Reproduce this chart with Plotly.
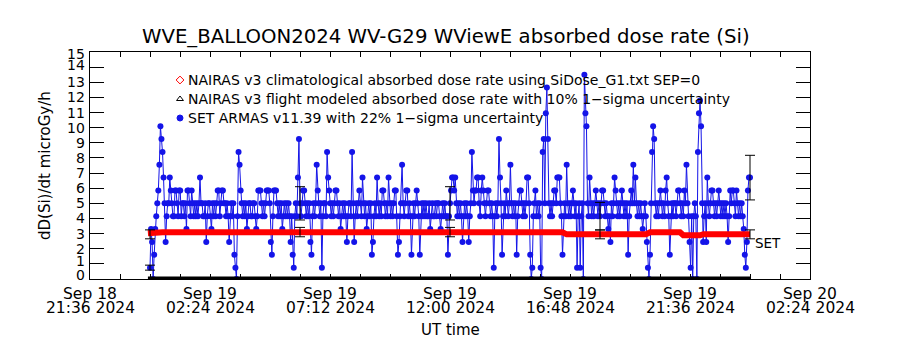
import pandas as pd
import plotly.graph_objects as go

# ---------------- data ----------------
title_text = "WVE_BALLOON2024 WV-G29 WViewE absorbed dose rate (Si)"
y_title = "dD(Si)/dt microGy/h"
x_title = "UT time"

legend_labels = [
    "NAIRAS v3 climatological absorbed dose rate using SiDose_G1.txt SEP=0",
    "NAIRAS v3 flight modeled absorbed dose rate with 10% 1\u2212sigma uncertainty",
    "SET ARMAS v11.39 with 22% 1\u2212sigma uncertainty",
]

# x tick labels (two lines)
tick_times = ["2024-09-18 21:36", "2024-09-19 02:24", "2024-09-19 07:12", "2024-09-19 12:00",
              "2024-09-19 16:48", "2024-09-19 21:36", "2024-09-20 02:24"]
tick_line1 = ["Sep 18", "Sep 19", "Sep 19", "Sep 19", "Sep 19", "Sep 19", "Sep 20"]
tick_line2 = ["21:36 2024", "02:24 2024", "07:12 2024", "12:00 2024",
              "16:48 2024", "21:36 2024", "02:24 2024"]

# y tick labels
y_ticks = list(range(0, 16))
y_tick_labels = [str(v) for v in y_ticks]

# SET ARMAS dose rate, 2.5-minute samples from 2024-09-19 00:00 (one row per hour)
armas_start = "2024-09-19 00:00"
armas_step = "150s"
armas_values = [
    0.75, 3.3, 2.45, 0.0, 1.6, 3.3, 4.15, 5.0, 5.85, 7.55, 10.1, 9.25, 8.4, 6.7, 5.0, 2.45, 4.15, 5.0, 5.0, 6.7, 5.85, 5.0, 4.15, 4.15,
    5.85, 5.85, 5.0, 4.15, 5.85, 5.85, 4.15, 5.0, 5.0, 4.15, 5.0, 3.3, 5.85, 5.85, 5.0, 4.15, 5.85, 5.0, 4.15, 5.0, 4.15, 5.0, 4.15, 5.0,
    6.7, 5.0, 5.0, 4.15, 4.15, 5.0, 2.45, 4.15, 5.0, 5.0, 4.15, 3.3, 5.0, 4.15, 5.0, 4.15, 5.0, 5.85, 5.85, 4.15, 5.0, 5.85, 5.85, 5.0,
    5.0, 4.15, 5.0, 4.15, 2.45, 4.15, 5.0, 4.15, 5.0, 1.6, 0.75, 0.0, 4.15, 8.4, 7.55, 5.85, 5.0, 4.15, 5.0, 4.15, 5.0, 3.3, 4.15, 5.0,
    5.0, 4.15, 4.15, 5.0, 5.0, 4.15, 3.3, 4.15, 5.85, 5.85, 5.85, 5.0, 4.15, 5.0, 4.15, 5.0, 5.85, 5.85, 5.85, 5.0, 2.45, 1.6, 4.15, 5.85,
    5.85, 5.85, 5.0, 4.15, 5.0, 4.15, 5.0, 3.3, 4.15, 5.0, 4.15, 5.0, 4.15, 5.0, 4.15, 2.45, 4.15, 1.6, 0.75, 4.15, 5.0, 4.15, 6.7, 9.25,
    5.0, 4.15, 5.0, 5.85, 5.85, 5.0, 4.15, 5.0, 4.15, 5.0, 2.45, 1.6, 4.15, 5.0, 4.15, 5.0, 7.55, 5.85, 5.0, 4.15, 5.0, 0.75, 4.15, 5.0,
    5.0, 4.15, 8.4, 6.7, 5.85, 5.0, 4.15, 5.0, 4.15, 5.0, 5.85, 5.85, 5.0, 4.15, 5.0, 3.3, 4.15, 5.0, 4.15, 5.0, 4.15, 2.45, 4.15, 5.0,
    5.0, 4.15, 8.4, 5.0, 2.45, 4.15, 5.0, 4.15, 5.0, 5.85, 5.0, 4.15, 6.7, 5.0, 4.15, 5.0, 3.3, 4.15, 5.0, 4.15, 5.0, 1.6, 2.45, 4.15,
    5.0, 4.15, 6.7, 5.0, 4.15, 5.0, 4.15, 5.85, 5.85, 5.0, 4.15, 5.0, 4.15, 6.7, 5.0, 4.15, 5.0, 4.15, 5.0, 5.85, 5.85, 4.15, 1.6, 2.45,
    4.15, 5.0, 7.55, 5.0, 4.15, 5.0, 5.85, 5.85, 4.15, 5.0, 4.15, 1.6, 4.15, 5.0, 4.15, 5.0, 5.85, 5.0, 4.15, 1.6, 4.15, 5.0, 4.15, 5.0,
    4.15, 5.0, 4.15, 4.15, 5.0, 3.3, 4.15, 5.0, 4.15, 4.15, 5.0, 4.15, 5.0, 5.0, 4.15, 3.3, 4.15, 5.0, 4.15, 5.0, 4.15, 4.15, 1.6, 4.15,
    5.0, 5.85, 6.7, 6.7, 5.85, 6.7, 5.0, 4.15, 5.0, 4.15, 5.0, 4.15, 2.45, 4.15, 5.0, 4.15, 5.0, 4.15, 2.45, 4.15, 5.0, 8.4, 5.85, 5.0,
    5.85, 5.85, 6.7, 6.7, 5.0, 4.15, 5.85, 6.7, 5.85, 5.0, 4.15, 5.0, 5.85, 5.85, 5.0, 4.15, 5.0, 4.15, 0.75, 4.15, 5.0, 4.15, 5.0, 9.25,
    6.7, 5.0, 1.6, 4.15, 5.0, 4.15, 5.85, 5.0, 4.15, 5.0, 7.55, 5.0, 4.15, 5.0, 4.15, 5.0, 1.6, 4.15, 5.0, 5.85, 5.85, 5.0, 4.15, 5.0,
    4.15, 5.0, 6.7, 6.7, 5.0, 1.6, 0.0, 0.75, 4.15, 5.0, 5.85, 4.15, 5.0, 4.15, 5.0, 0.75, 0.0, 8.4, 9.25, 5.0, 10.95, 12.65, 9.25, 5.0,
    4.15, 5.0, 4.15, 5.0, 5.85, 5.85, 5.0, 6.7, 6.7, 6.7, 5.0, 4.15, 1.6, 4.15, 5.0, 4.15, 7.55, 5.0, 4.15, 5.0, 4.15, 5.0, 5.85, 5.0,
    4.15, 5.0, 0.75, 4.15, 5.0, 0.75, 4.15, 5.0, 0.0, 13.5, 10.95, 10.1, 5.0, 4.15, 6.7, 5.0, 4.15, 5.0, 4.15, 5.0, 5.85, 5.0, 4.15, 5.0,
    4.15, 5.0, 5.85, 5.85, 5.0, 4.15, 5.0, 4.15, 3.3, 4.15, 2.45, 5.0, 4.15, 5.0, 6.7, 5.85, 5.0, 4.15, 5.0, 4.15, 5.0, 5.85, 5.0, 4.15,
    5.0, 4.15, 5.0, 1.6, 4.15, 5.0, 5.85, 5.0, 7.55, 5.0, 6.7, 5.0, 4.15, 5.0, 4.15, 5.0, 4.15, 3.3, 4.15, 5.0, 4.15, 2.45, 0.75, 0.0,
    1.6, 5.0, 8.4, 10.1, 9.25, 5.0, 4.15, 5.0, 4.15, 5.0, 5.85, 5.0, 4.15, 5.0, 4.15, 5.85, 6.7, 5.0, 4.15, 1.6, 4.15, 5.0, 4.15, 5.0,
    5.0, 4.15, 5.0, 5.85, 5.85, 5.0, 4.15, 5.0, 4.15, 5.85, 5.0, 7.55, 5.0, 4.15, 2.45, 0.75, 4.15, 0.0, 4.15, 5.0, 4.15, 0.0, 8.4, 10.95,
    11.8, 10.1, 5.0, 2.45, 4.15, 5.0, 2.45, 6.7, 5.0, 4.15, 5.0, 5.85, 5.85, 5.0, 4.15, 5.0, 4.15, 5.0, 5.85, 5.0, 4.15, 5.0, 4.15, 5.0,
    4.15, 5.0, 4.15, 2.45, 4.15, 5.85, 5.0, 5.85, 5.85, 5.0, 4.15, 5.85, 5.0, 4.15, 5.0, 4.15, 5.0, 4.15, 3.3, 1.6, 0.75, 2.45, 5.85, 6.7,
    6.7,
]
armas_err_frac = 0.22
armas_err_index = [0, 144, 288, 432, 576]

# NAIRAS v3 climatological dose rate
clim_times = ["2024-09-18 23:55", "2024-09-19 00:30", "2024-09-19 16:30", "2024-09-19 16:40",
              "2024-09-19 19:50", "2024-09-19 20:00", "2024-09-19 21:12", "2024-09-19 21:20",
              "2024-09-19 22:00", "2024-09-19 22:08", "2024-09-20 00:00"]
clim_values = [3.02, 3.09, 3.09, 2.95, 2.95, 3.09, 3.09, 2.89, 2.89, 2.96, 2.96]

# NAIRAS v3 flight modeled dose rate
flight_times = ["2024-09-19 00:00", "2024-09-19 06:00", "2024-09-19 12:00",
                "2024-09-19 18:00", "2024-09-20 00:00"]
flight_values = [2.95, 3.1, 3.1, 2.95, 2.95]
flight_err_frac = 0.10

# ---------------- figure ----------------
W, H = 900, 350
L, R, T, B = 90, 90, 52, 71
PW, PH = W - L - R, H - T - B

def px_x(p):
    return (p - L) / PW

def px_y(p):
    return (H - B - p) / PH

font_family = "DejaVu Sans"
blue = "#1414e8"

armas_times = pd.date_range(armas_start, periods=len(armas_values), freq=armas_step)

fig = go.Figure()

# ARMAS line + markers
fig.add_trace(go.Scatter(
    x=armas_times, y=armas_values, mode="lines+markers",
    line=dict(color=blue, width=1),
    marker=dict(color=blue, size=6, symbol="circle", line=dict(width=0)),
    showlegend=False, hoverinfo="skip"))

# NAIRAS flight modeled (zero fill along bottom)
fig.add_trace(go.Scatter(
    x=[pd.Timestamp("2024-09-18 23:55"), armas_times[-1]], y=[0, 0], mode="lines",
    line=dict(color="black", width=5), showlegend=False, hoverinfo="skip"))

# NAIRAS climatological
fig.add_trace(go.Scatter(
    x=pd.to_datetime(clim_times), y=clim_values, mode="lines",
    line=dict(color="#ff0000", width=6), showlegend=False, hoverinfo="skip"))

# ARMAS error bars
err_x = [armas_times[i] for i in armas_err_index]
err_y = [armas_values[i] for i in armas_err_index]
fig.add_trace(go.Scatter(
    x=err_x, y=err_y, mode="markers", marker=dict(size=1, color="rgba(0,0,0,0)"),
    error_y=dict(type="data", array=[v * armas_err_frac for v in err_y],
                 color="black", thickness=1, width=5),
    showlegend=False, hoverinfo="skip"))

# NAIRAS flight error bars
fig.add_trace(go.Scatter(
    x=pd.to_datetime(flight_times), y=flight_values, mode="markers",
    marker=dict(size=1, color="rgba(0,0,0,0)"),
    error_y=dict(type="data", array=[v * flight_err_frac for v in flight_values],
                 color="black", thickness=1, width=5),
    showlegend=False, hoverinfo="skip"))

# legend symbols on an overlay axis
leg_sym_x = px_x(180)
leg_rows_y = [px_y(80), px_y(99), px_y(118)]
leg_symbols = ["diamond-open", "triangle-up-open", "circle"]
leg_colors = ["#ff0000", "black", blue]
for sy, sym, col in zip(leg_rows_y, leg_symbols, leg_colors):
    fig.add_trace(go.Scatter(
        x=[leg_sym_x], y=[sy], xaxis="x2", yaxis="y2", mode="markers",
        marker=dict(symbol=sym, color=col, size=6, line=dict(width=1, color=col)),
        showlegend=False, hoverinfo="skip"))

annotations = []
for sy, txt in zip(leg_rows_y, legend_labels):
    annotations.append(dict(x=px_x(186), y=sy, xref="paper", yref="paper",
                            text=txt, showarrow=False, xanchor="left", yanchor="middle",
                            font=dict(family=font_family, size=14, color="black")))

for t, l1, l2 in zip(tick_times, tick_line1, tick_line2):
    annotations.append(dict(x=t, y=px_y(294), xref="x", yref="paper", text=l1,
                            showarrow=False, xanchor="center", yanchor="middle",
                            font=dict(family=font_family, size=15.5, color="black")))
    annotations.append(dict(x=t, y=px_y(308), xref="x", yref="paper", text=l2,
                            showarrow=False, xanchor="center", yanchor="middle",
                            font=dict(family=font_family, size=15.5, color="black")))

# y tick labels: end labels are nudged inward as in the original plot
y_label_shift = {0: -4.5, 1: -2.5, 14: -2, 15: 2}
for v, lab in zip(y_ticks, y_tick_labels):
    annotations.append(dict(x=px_x(87), y=v, xref="paper", yref="y", text=lab,
                            showarrow=False, xanchor="right", yanchor="middle",
                            yshift=-y_label_shift.get(v, 0),
                            font=dict(family=font_family, size=14, color="black")))

annotations.append(dict(x=0.5, y=px_y(330), xref="paper", yref="paper", text=x_title,
                        showarrow=False, xanchor="center", yanchor="middle",
                        font=dict(family=font_family, size=15, color="black")))
annotations.append(dict(x=px_x(45), y=px_y(166), xref="paper", yref="paper", text=y_title,
                        showarrow=False, xanchor="center", yanchor="middle", textangle=-90,
                        font=dict(family=font_family, size=15, color="black")))
annotations.append(dict(x=px_x(446), y=px_y(37), xref="paper", yref="paper", text=title_text,
                        showarrow=False, xanchor="center", yanchor="middle",
                        font=dict(family=font_family, size=19.7, color="black")))
annotations.append(dict(x=px_x(753), y=px_y(243), xref="paper", yref="paper", text="SET",
                        showarrow=False, xanchor="left", yanchor="middle",
                        font=dict(family=font_family, size=13.5, color="black")))

minor_ticks = pd.date_range("2024-09-18 21:36", "2024-09-20 02:24", freq="72min")

fig.update_layout(
    width=W, height=H,
    margin=dict(l=L, r=R, t=T, b=B, pad=0),
    paper_bgcolor="white", plot_bgcolor="white",
    showlegend=False,
    font=dict(family=font_family, color="black"),
    xaxis=dict(type="date", range=["2024-09-18 21:36", "2024-09-20 02:24"],
               tickvals=list(minor_ticks), showticklabels=False,
               ticks="inside", ticklen=5, tickcolor="black", tickwidth=1,
               showline=True, linecolor="black", linewidth=1, mirror="ticks",
               showgrid=False, zeroline=False),
    yaxis=dict(range=[0, 15], tickvals=y_ticks, showticklabels=False,
               ticks="inside", ticklen=14,
               tickcolor="black", tickwidth=1, showline=True, linecolor="black",
               linewidth=1, mirror="ticks", showgrid=False, zeroline=False),
    xaxis2=dict(overlaying="x", range=[0, 1], visible=False, fixedrange=True),
    yaxis2=dict(overlaying="y", range=[0, 1], visible=False, fixedrange=True),
    annotations=annotations,
)

fig.write_html("out.html")
